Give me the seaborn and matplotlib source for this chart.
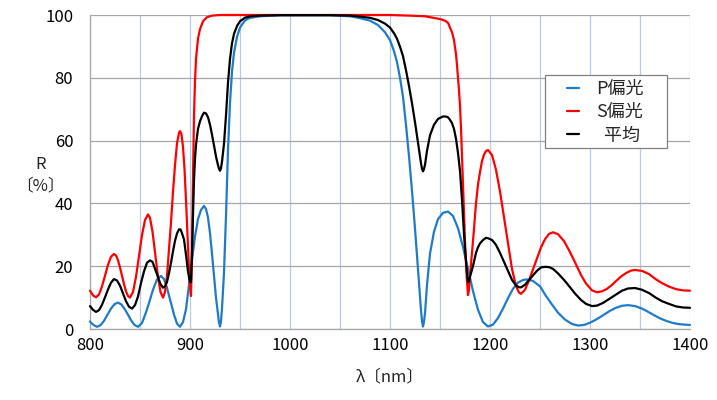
import matplotlib
matplotlib.use("Agg")
import matplotlib.pyplot as plt
import seaborn as sns
import pandas as pd
from matplotlib.ticker import MultipleLocator
from matplotlib.patches import Rectangle

# ---- data ----
p_wl = [800, 802, 804.5, 807, 810.5, 814, 817.5, 821, 824.5, 828, 831.5, 835, 838, 841, 844.5, 848,
        852, 856, 859.5, 863, 867, 871, 874, 877, 880.5, 884, 887, 890, 893, 896, 899, 902, 905,
        908, 911, 914, 916, 918, 920, 922, 924, 926, 928, 929, 930, 931, 932, 934, 936, 938, 940,
        942, 944, 947, 950, 955, 960, 970, 990, 1040, 1060, 1070, 1080, 1088, 1095, 1100, 1104,
        1107, 1110, 1113, 1116, 1119, 1122, 1125, 1128, 1130, 1131, 1132, 1133, 1134, 1135, 1137,
        1140, 1144, 1148, 1153, 1158, 1163, 1168, 1173, 1178, 1183, 1188, 1193, 1198, 1203, 1208,
        1213, 1218, 1223, 1228, 1233, 1237, 1243, 1250, 1256, 1262, 1268, 1275, 1282, 1288, 1294,
        1300, 1306, 1313, 1320, 1326, 1332, 1338, 1345, 1352, 1358, 1364, 1370, 1376, 1382, 1388,
        1394, 1400]
p_val = [2.4, 1.7, 1.1, 0.7, 1.2, 2.6, 4.55, 6.5, 7.9, 8.4, 7.8, 6.2, 4.55, 2.8, 1.3, 0.7,
         1.9, 5.3, 8.8, 12.5, 15.8, 16.9, 15.9, 13.1, 8.8, 4.6, 1.7, 0.7, 2.2, 6.3, 14.0, 22.0, 29.5,
         35.0, 37.9, 39.2, 38.2, 35.5, 30.5, 24.0, 17.0, 10.0, 4.5, 2.0, 0.8, 2.5, 6.5, 18.0, 36.0, 57.0, 72.0,
         82.0, 88.0, 93.0, 96.0, 98.3, 99.1, 99.6, 99.9, 99.9, 99.6, 99.0, 98.2, 96.8, 94.5, 92.0, 88.5,
         85.0, 80.0, 74.0, 65.0, 55.0, 44.0, 32.0, 19.0, 10.0, 6.0, 2.5, 0.8, 2.3, 5.0, 14.0,
         24.0, 31.0, 35.0, 37.0, 37.4, 36.0, 32.1, 26.1, 19.1, 12.1, 6.1, 2.2, 0.8, 1.4, 3.5,
         6.5, 9.8, 12.8, 14.8, 15.6, 15.8, 15.3, 13.6, 10.5, 7.8, 5.2, 3.0, 1.6, 1.1, 1.3,
         2.0, 3.0, 4.35, 5.8, 6.75, 7.4, 7.6, 7.3, 6.5, 5.5, 4.4, 3.4, 2.6, 2.0, 1.6,
         1.4, 1.3]

s_wl = [800, 803, 806, 809, 812, 815, 818, 821, 824, 826, 828, 830, 832, 834, 836, 838, 840,
        843, 846, 849, 852, 855, 858, 860, 862.5, 865.5, 868, 870.5, 873, 875, 877, 879, 881,
        883, 885, 887, 889, 890, 891.5, 893, 894.5, 896, 897.5, 899, 900, 901, 902, 903, 904,
        905, 906, 908, 910, 913, 917, 922, 930, 1100, 1120, 1135, 1145, 1150, 1155, 1158, 1160,
        1162, 1164, 1166, 1167, 1168, 1169, 1170, 1171, 1172, 1173, 1174, 1175, 1176, 1177,
        1178, 1179, 1180, 1183, 1186, 1188, 1190, 1192, 1194, 1196, 1198, 1202, 1206, 1210,
        1214, 1218, 1222, 1226, 1229, 1231, 1235, 1239, 1243, 1247, 1251, 1255, 1259, 1263,
        1268, 1274, 1279, 1285, 1291, 1296, 1302, 1307, 1312, 1317, 1322, 1326, 1331, 1336,
        1341, 1345, 1352, 1359, 1366, 1372, 1379, 1386, 1393, 1400]
s_val = [12.2, 10.7, 10.1, 11.0, 13.55, 17.0, 20.45, 23.0, 23.9, 23.4, 21.9, 19.6, 17.0, 14.3, 12.0, 10.5, 10.0,
         11.8, 16.6, 23.25, 29.9, 34.7, 36.5, 35.4, 31.0, 23.25, 16.6, 11.8, 10.0, 11.8, 16.9, 25.4, 34.0,
         43.7, 52.2, 59.1, 62.5, 63.0, 62.0, 58.0, 51.0, 41.0, 30.0, 19.0, 13.5, 10.5, 25.0, 48.0, 68.0,
         79.0, 86.0, 92.5, 95.5, 98.0, 99.3, 99.8, 100.0, 100.0, 99.8, 99.6, 99.0, 98.7, 98.2, 97.5, 96.0,
         94.5, 92.0, 87.5, 84.0, 80.0, 76.0, 71.0, 64.0, 55.0, 45.0, 36.0, 28.0, 21.0, 15.0,
         10.8, 12.5, 17.0, 28.0, 40.0, 46.0, 50.0, 53.5, 55.5, 56.7, 57.0, 55.4, 50.7, 43.8,
         35.5, 27.2, 19.1, 13.7, 11.6, 11.2, 12.5, 15.5, 19.0, 22.5, 26.0, 28.6, 30.3, 30.8,
         30.2, 28.0, 25.1, 21.25, 17.2, 14.5, 12.3, 11.7, 12.0, 12.8, 14.05, 15.25, 16.7, 17.8,
         18.6, 18.8, 18.5, 17.5, 15.8, 14.6, 13.5, 12.7, 12.3, 12.2]

a_wl = [800, 803, 806, 809, 812, 815, 818, 821, 824, 827, 830, 833, 836, 839, 842, 845, 848,
        851, 854, 857, 860, 862.5, 865.5, 868, 870.5, 873, 875, 877, 879, 881, 883, 885, 887,
        889, 890.5, 892, 894, 896, 898, 899, 900, 901, 902, 903, 904, 905, 906, 908, 910, 912,
        914, 916, 918, 920, 922, 924, 926, 928, 929, 930, 931, 932, 934, 936, 938, 940, 942,
        944, 947, 950, 955, 960, 970, 990, 1040, 1060, 1070, 1080, 1088, 1095, 1100, 1104,
        1107, 1110, 1113, 1116, 1119, 1122, 1125, 1128, 1130, 1131, 1132, 1133, 1134, 1135,
        1137, 1140, 1144, 1148, 1153, 1156, 1158, 1160, 1162, 1164, 1166, 1168, 1170, 1172,
        1174, 1175, 1176, 1177, 1178, 1179, 1180, 1183, 1186, 1188, 1190, 1193, 1196, 1198,
        1202, 1206, 1210, 1214, 1218, 1222, 1226, 1229, 1231, 1235, 1239, 1243, 1247, 1251,
        1255, 1259, 1263, 1268, 1274, 1279, 1285, 1291, 1296, 1302, 1307, 1313, 1320, 1326,
        1332, 1338, 1345, 1352, 1359, 1366, 1372, 1379, 1386, 1393, 1400]
a_val = [7.3, 6.1, 5.45, 6.0, 7.7, 10.1, 12.6, 14.75, 15.9, 15.45, 13.8, 11.35, 8.85, 7.1, 6.5, 7.6, 10.35,
         14.65, 18.35, 21.1, 21.85, 21.4, 18.7, 16.35, 14.3, 13.15, 13.6, 15.0, 17.8, 21.1, 24.75, 28.05, 30.4,
         31.75, 31.7, 30.5, 28.5, 23.65, 18.35, 16.5, 15.1, 14.9, 23.5, 36.25, 47.5, 54.25, 58.65, 63.75, 66.15, 67.75,
         68.9, 68.65, 67.45, 65.05, 61.9, 58.4, 54.95, 52.2, 51.0, 50.4, 51.25, 53.25, 59.0, 68.0, 78.5, 86.0, 91.0,
         94.0, 96.5, 98.0, 99.15, 99.55, 99.8, 99.95, 99.95, 99.8, 99.5, 99.1, 98.4, 97.25, 96.0, 94.2,
         92.45, 89.9, 86.9, 82.4, 77.4, 71.9, 65.85, 59.35, 54.8, 52.8, 51.05, 50.2, 50.95, 52.3,
         56.75, 61.7, 65.05, 66.9, 67.7, 67.65, 67.45, 66.6, 65.55, 63.7, 60.6, 56.05, 50.35, 41.15,
         30.35, 25.65, 21.5, 17.75, 14.95, 15.1, 16.65, 20.05, 24.25, 26.05, 27.25, 28.35, 29.05, 28.9,
         28.35, 26.8, 24.25, 21.35, 18.5, 15.65, 13.85, 13.3, 13.25, 14.1, 15.6, 17.15, 18.55, 19.6,
         19.8, 19.7, 19.15, 17.7, 15.65, 13.7, 11.3, 9.25, 8.0, 7.3, 7.45, 8.3, 9.75, 11.0,
         12.2, 12.9, 13.05, 12.5, 11.45, 9.95, 8.85, 8.0, 7.2, 6.85, 6.75]

series_labels = ["P偏光", "S偏光", "  平均"]
x_ticks = [800, 900, 1000, 1100, 1200, 1300, 1400]
y_ticks = [0, 20, 40, 60, 80, 100]

# ---- styling ----
sns.set_theme(style="white")
plt.rcParams["font.family"] = ["Noto Sans CJK JP", "DejaVu Sans"]

fig = plt.figure(figsize=(7.17, 4.0), dpi=100)
ax = fig.add_axes([90 / 717, 71 / 400, 600 / 717, 314 / 400])

df_p = pd.DataFrame({"wl": p_wl, "R": p_val})
df_s = pd.DataFrame({"wl": s_wl, "R": s_val})
df_a = pd.DataFrame({"wl": a_wl, "R": a_val})

colors = ["#1F7BC8", "#FF0000", "#000000"]
for df, lab, col in zip([df_p, df_s, df_a], series_labels, colors):
    sns.lineplot(data=df, x="wl", y="R", ax=ax, color=col, linewidth=1.6,
                 label=lab, sort=False, estimator=None, clip_on=False, zorder=3,
                 solid_joinstyle="round", solid_capstyle="round")

ax.set_xlim(800, 1400)
ax.set_ylim(0, 100)
ax.set_xticks(x_ticks)
ax.set_yticks(y_ticks)
ax.xaxis.set_minor_locator(MultipleLocator(50))
ax.grid(False)
ax.grid(axis="y", which="major", color="#A6A6A6", linewidth=0.9, zorder=0)
ax.grid(axis="x", which="both", color="#B7CBE8", linewidth=0.9, zorder=0)
ax.set_axisbelow(True)

for side in ["top", "right"]:
    ax.spines[side].set_visible(False)
for side in ["left", "bottom"]:
    ax.spines[side].set_color("#A6A6A6")
    ax.spines[side].set_linewidth(0.9)

ax.tick_params(axis="both", which="both", length=0, labelsize=12, colors="#000000")
ax.tick_params(axis="x", pad=6)
ax.tick_params(axis="y", pad=12)

ax.set_xlabel("λ〔nm〕", fontsize=12, labelpad=10)
ax.set_ylabel("R\n〔%〕", fontsize=12, rotation=0, va="center", ha="center",
              linespacing=1.4)
ax.yaxis.set_label_coords(-0.082, 0.49)

# legend frame
frame = Rectangle((0.7583, 0.5764), 0.9617 - 0.7583, 0.8089 - 0.5764,
                  transform=ax.transAxes, facecolor="white", edgecolor="#808080",
                  linewidth=0.9, zorder=5, clip_on=False)
ax.add_patch(frame)
leg = ax.legend(loc="center left", bbox_to_anchor=(0.795, 0.690), borderaxespad=0,
                fontsize=13, frameon=False, handlelength=0.65, handletextpad=0.95,
                labelspacing=0.3, borderpad=0)
leg.set_zorder(6)
for line in leg.get_lines():
    line.set_linewidth(1.6)

fig.savefig("out.png", dpi=100)
